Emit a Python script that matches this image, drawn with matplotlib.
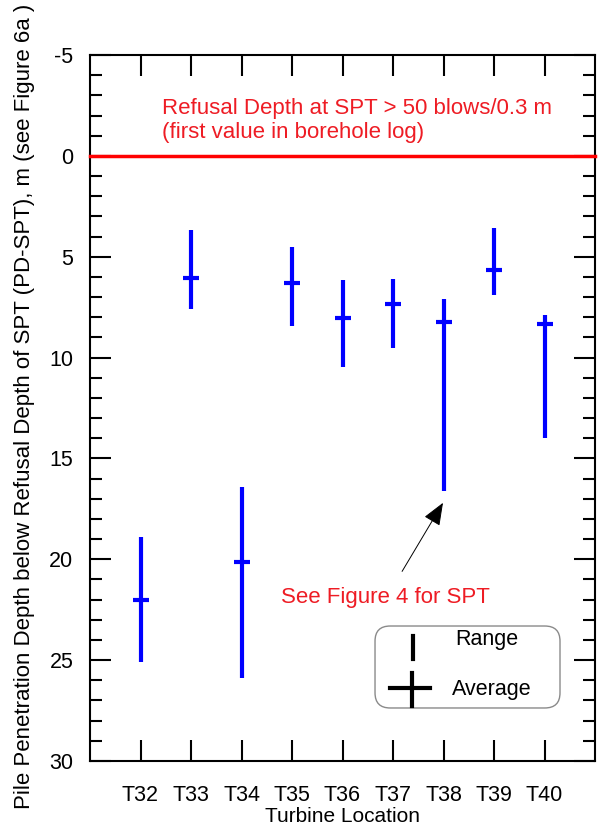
import matplotlib
matplotlib.use("Agg")
import matplotlib.pyplot as plt
from matplotlib.patches import FancyBboxPatch
from matplotlib.ticker import MultipleLocator

plt.rcParams['font.family'] = ['Liberation Sans', 'DejaVu Sans']
plt.rcParams['axes.unicode_minus'] = False

turbines = ['T32', 'T33', 'T34', 'T35', 'T36', 'T37', 'T38', 'T39', 'T40']
range_top = [18.9, 3.7, 16.4, 4.5, 6.15, 6.1, 7.1, 3.6, 7.9]
range_bottom = [25.1, 7.6, 25.9, 8.45, 10.45, 9.55, 16.6, 6.9, 14.0]
average = [22.0, 6.05, 20.15, 6.3, 8.05, 7.35, 8.25, 5.65, 8.35]

refusal_depth = 0.0
ylim = (-5, 30)
yticks = [-5, 0, 5, 10, 15, 20, 25, 30]

fig = plt.figure(figsize=(6.0, 8.31), dpi=100)
ax = fig.add_axes([90/600, 1-761/831, 505/600, 706/831])

x = list(range(len(turbines)))
ax.vlines(x, range_top, range_bottom, color='#0000ff', lw=3)
ax.plot(x, average, ls='none', marker='_', ms=11.5, mew=3, color='#0000ff')

ax.axhline(refusal_depth, color='#ff0000', lw=2.5, clip_on=False, zorder=3)

ax.set_xlim(-1, len(turbines))
ax.set_ylim(ylim[1], ylim[0])
ax.set_xticks(x)
ax.set_xticklabels(turbines)
ax.set_yticks(yticks)
ax.yaxis.set_minor_locator(MultipleLocator(1))

for s in ax.spines.values():
    s.set_linewidth(1.5)

ax.tick_params(axis='both', which='major', direction='in', length=15, width=1.5,
               labelsize=15.5, top=True, right=True)
ax.tick_params(axis='y', which='minor', direction='in', length=8.5, width=1.5,
               left=True, right=True)
ax.tick_params(axis='x', which='major', pad=17)
ax.tick_params(axis='y', which='major', pad=12)

ax.set_xlabel('Turbine Location', fontsize=15, labelpad=1)
fig.text(25/600, 1-406.5/831,
         'Pile Penetration Depth below Refusal Depth of SPT (PD-SPT), m (see Figure 6a )',
         rotation=90, ha='center', va='center', fontsize=16)

ax.text(0.42, -1.75, 'Refusal Depth at SPT > 50 blows/0.3 m\n(first value in borehole log)',
        color='#ee1c24', fontsize=16, ha='left', va='center', linespacing=1.15)

ax.text(4.86, 21.9, 'See Figure 4 for SPT', color='#ee1c24', fontsize=16,
        ha='center', va='center')
ax.annotate('', xy=(5.99, 17.2), xytext=(5.18, 20.6),
            arrowprops=dict(arrowstyle='-|>,head_length=1.0,head_width=0.4',
                            mutation_scale=14, color='black', lw=0.7,
                            shrinkA=0, shrinkB=0))

# legend box
box = FancyBboxPatch((0.5644, 0.0751), 0.9307-0.5644, 0.1912-0.0751,
                     boxstyle='round,pad=0,rounding_size=0.03',
                     mutation_aspect=505/706, transform=ax.transAxes,
                     facecolor='white', edgecolor='#8a8a8a', lw=1.0, zorder=4)
ax.add_patch(box)
ax.plot([0.6396, 0.6396], [0.1445, 0.177], transform=ax.transAxes,
        color='black', lw=3, zorder=5)
ax.plot([0.594, 0.673], [0.1034, 0.1034], transform=ax.transAxes,
        color='black', lw=3, zorder=5)
ax.plot([0.637, 0.637], [0.0779, 0.1246], transform=ax.transAxes,
        color='black', lw=3, zorder=5)
ax.text(0.7228, 0.1714, 'Range', transform=ax.transAxes, fontsize=15.5,
        ha='left', va='center', zorder=5)
ax.text(0.7168, 0.1006, 'Average', transform=ax.transAxes, fontsize=15.5,
        ha='left', va='center', zorder=5)

fig.savefig('out.png', dpi=100)
